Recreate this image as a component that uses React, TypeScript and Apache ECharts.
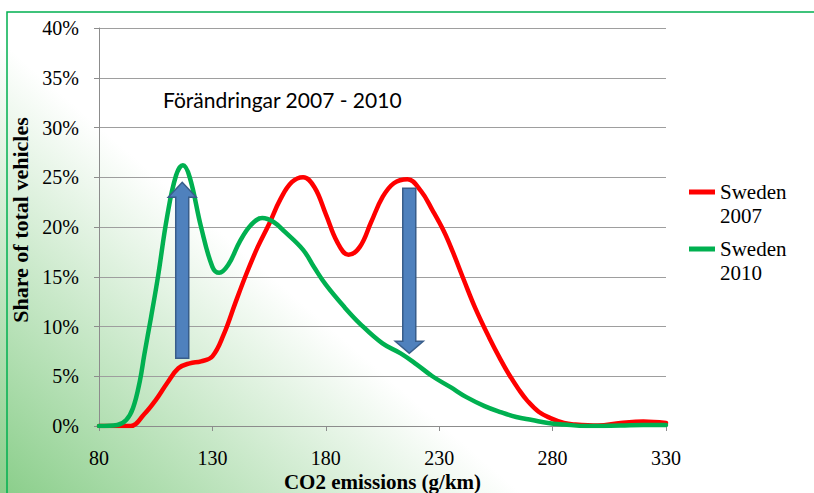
import React, { useEffect, useRef } from "react";
import * as echarts from "echarts";

// CO2 emissions (g/km) sample points and share of total vehicles (%)
const redX = [80, 90, 94, 100, 105, 110, 115, 120, 125, 130, 135, 140, 145, 150, 155, 160, 165, 170, 175, 180, 185, 190, 195, 200, 205, 210, 216, 222, 227, 232, 236, 241, 246, 252, 257, 261, 265, 269, 274, 279, 285, 290, 300, 310, 320, 330];
const redY = [0, 0, 0, 1.2, 2.6, 4.3, 5.8, 6.3, 6.5, 7.0, 9.2, 12.3, 15.3, 18.0, 20.3, 22.8, 24.5, 25.0, 24.0, 21.3, 18.5, 17.2, 18.0, 20.5, 23.0, 24.4, 24.8, 23.6, 21.7, 19.6, 17.5, 14.6, 11.8, 8.9, 6.7, 5.1, 3.7, 2.5, 1.4, 0.8, 0.3, 0.15, 0.05, 0.3, 0.45, 0.3];

const greenX = [80, 88, 92, 95, 98, 100, 103, 106, 110, 114, 117, 120, 125, 130, 133, 137, 142, 147, 152, 157, 162, 170, 175, 180, 188, 195, 205, 213, 220, 227, 235, 242, 250, 257, 264, 271, 278, 285, 295, 310, 320, 330];
const greenY = [0, 0.1, 0.6, 1.8, 4.5, 7.2, 11.0, 15.0, 21.0, 25.2, 26.2, 25.0, 20.0, 16.0, 15.4, 16.2, 18.5, 20.2, 20.9, 20.5, 19.5, 17.7, 15.9, 14.2, 12.0, 10.3, 8.3, 7.3, 6.2, 5.0, 3.9, 2.9, 2.0, 1.4, 0.9, 0.6, 0.3, 0.15, 0.0, 0.05, 0.1, 0.1];

const seriesNames = ["Sweden\n2007", "Sweden\n2010"];

// Change arrows: x position, start value, end value (%)
const arrowX = [116.7, 216.8];
const arrowFrom = [6.8, 23.9];
const arrowTo = [24.5, 7.3];

const xTicks = { min: 80, max: 330, interval: 50 };
const yTicks = { min: 0, max: 40, interval: 5 };

const annotation = "Förändringar 2007 - 2010";
const xName = "CO2 emissions (g/km)";
const yName = "Share of total vehicles";

const zip = (xs: number[], ys: number[]) => xs.map((x, i) => [x, ys[i]]);

// legend icon: a bar level with the first text line
const legendIcon =
  "path://M0,0L0.01,0L0.01,0.01ZM0,9.5L26,9.5L26,14.5L0,14.5ZM0,47.99L0.01,47.99L0.01,48Z";

export default function App() {
  const ref = useRef<HTMLDivElement>(null);

  useEffect(() => {
    if (!ref.current) return;
    const chart = echarts.init(ref.current, undefined, { renderer: "svg" });
    const serif = "'Liberation Serif', 'Times New Roman', serif";

    chart.setOption({
      animation: false,
      backgroundColor: {
        type: "linear",
        global: true,
        x: 0,
        y: 493,
        x2: 224,
        y2: 235,
        colorStops: [
          { offset: 0, color: "#8ACE8A" },
          { offset: 1, color: "#FFFFFF" },
        ],
      },
      grid: { left: 99, right: 148, top: 28, bottom: 67, containLabel: false, outerBoundsMode: "none" },
      legend: {
        orient: "vertical",
        left: 689,
        top: 180,
        padding: 0,
        itemWidth: 26,
        itemHeight: 48,
        itemGap: 9,
        icon: legendIcon,
        itemStyle: { borderWidth: 0 },
        data: seriesNames,
        textStyle: {
          fontFamily: serif,
          fontSize: 21,
          lineHeight: 24,
          color: "#000",
        },
      },
      xAxis: {
        type: "value",
        min: xTicks.min,
        max: xTicks.max,
        interval: xTicks.interval,
        name: xName,
        nameLocation: "middle",
        nameGap: 45,
        nameMoveOverlap: false,
        nameTextStyle: { fontFamily: serif, fontSize: 21, lineHeight: 21, fontWeight: "bold", color: "#000" },
        axisLine: { lineStyle: { color: "#8C8C8C", width: 1 } },
        axisTick: { show: true, length: 5, lineStyle: { color: "#8C8C8C" } },
        axisLabel: { margin: 22, fontFamily: serif, fontSize: 20, color: "#000" },
        splitLine: { show: false },
      },
      yAxis: {
        type: "value",
        min: yTicks.min,
        max: yTicks.max,
        interval: yTicks.interval,
        name: yName,
        nameLocation: "middle",
        nameGap: 67,
        nameTextStyle: { fontFamily: serif, fontSize: 22, fontWeight: "bold", color: "#000", padding: [0, 0, 0, 14] },
        axisLine: { show: true, lineStyle: { color: "#8C8C8C", width: 1 } },
        axisTick: { show: true, length: 5, lineStyle: { color: "#8C8C8C" } },
        axisLabel: { margin: 20, fontFamily: serif, fontSize: 20, color: "#000", formatter: "{value}%" },
        splitLine: { show: true, lineStyle: { color: "#9E9E9E", width: 1 } },
      },
      graphic: [
        {
          type: "rect",
          z: -10,
          silent: true,
          shape: { x: 7, y: 12, width: 900, height: 600 },
          style: { fill: "none", stroke: "#00B050", lineWidth: 1.5 },
        },
        {
          type: "text",
          x: 163,
          y: 99,
          z: 10,
          style: {
            text: annotation,
            fontFamily: "Lato, 'Open Sans', sans-serif",
            fontSize: 21,
            fill: "#000",
            verticalAlign: "middle",
          },
        },
      ],
      series: [
        {
          name: seriesNames[0],
          type: "line",
          data: zip(redX, redY),
          smooth: 0.4,
          showSymbol: false,
          symbol: "none",
          color: "#FF0000",
          lineStyle: { color: "#FF0000", width: 4.5, cap: "round", join: "round" },
          z: 3,
        },
        {
          name: seriesNames[1],
          type: "line",
          data: zip(greenX, greenY),
          smooth: 0.4,
          showSymbol: false,
          symbol: "none",
          color: "#00B050",
          lineStyle: { color: "#00B050", width: 4.5, cap: "round", join: "round" },
          z: 4,
        },
        {
          type: "custom",
          z: 6,
          silent: true,
          data: arrowX.map((x, i) => [x, arrowFrom[i], arrowTo[i]]),
          encode: { x: 0, y: [1, 2] },
          renderItem: (params: any, api: any) => {
            const x = api.value(0);
            const p0 = api.coord([x, api.value(1)]);
            const p1 = api.coord([x, api.value(2)]);
            const cx = p0[0];
            const dir = p1[1] < p0[1] ? -1 : 1;
            const hw = 6.5;
            const HW = 14;
            const HL = dir < 0 ? 15 : 12;
            const baseY = p1[1] - dir * HL;
            const points = [
              [cx - hw, p0[1]],
              [cx - hw, baseY],
              [cx - HW, baseY],
              [cx, p1[1]],
              [cx + HW, baseY],
              [cx + hw, baseY],
              [cx + hw, p0[1]],
            ];
            return {
              type: "polygon",
              shape: { points },
              style: { fill: "#4F81BD", stroke: "#385D8A", lineWidth: 1.5 },
            };
          },
        },
      ],
    });

    return () => chart.dispose();
  }, []);

  return (
    <div
      ref={ref}
      style={{ position: "fixed", left: 0, top: 0, width: 814, height: 493 }}
    />
  );
}
